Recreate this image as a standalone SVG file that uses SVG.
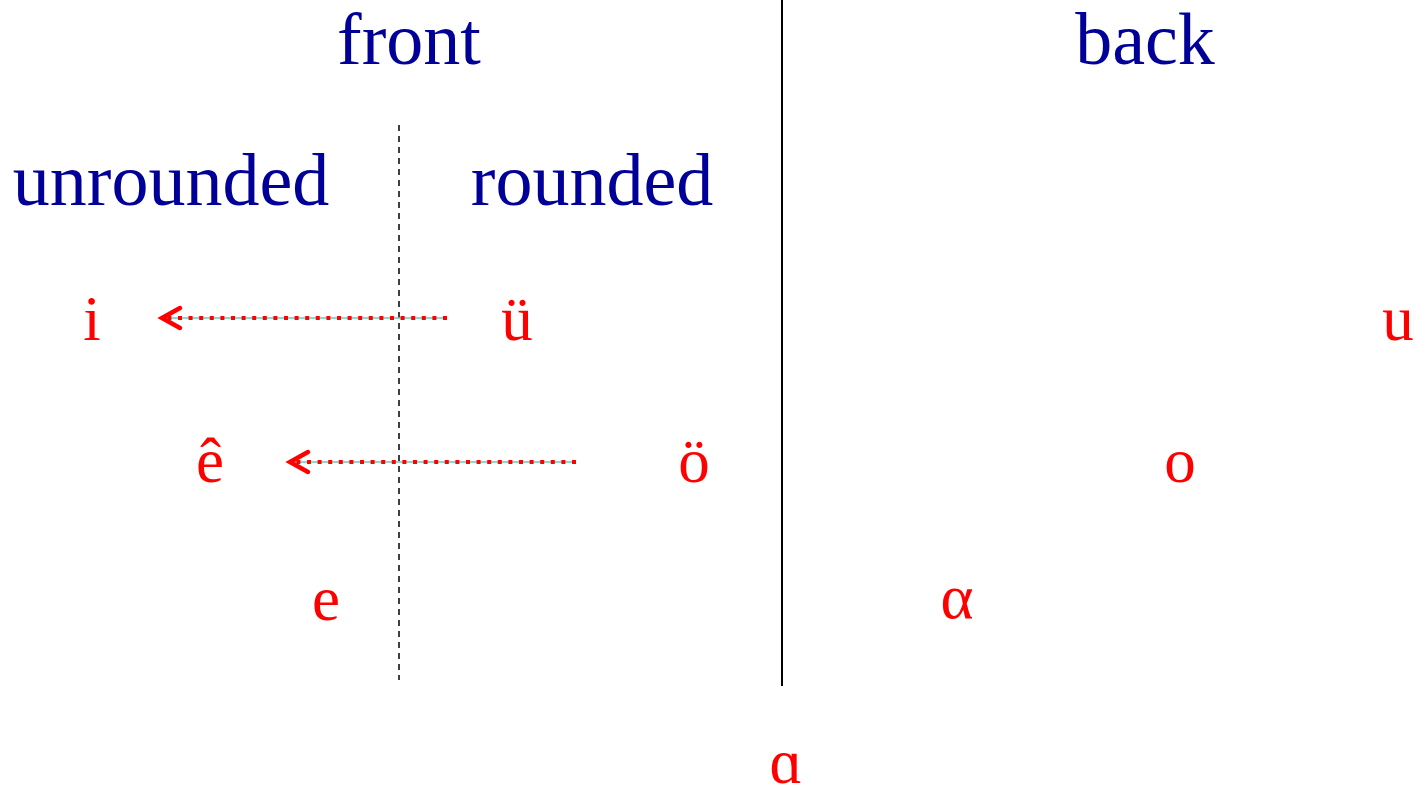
<svg xmlns="http://www.w3.org/2000/svg" width="1415" height="787" viewBox="0 0 1415 787">
<style>
.hdr{font-family:"Liberation Serif","Times New Roman",serif;font-size:74px;fill:#000099}
.v{font-family:"Liberation Serif","Times New Roman",serif;font-size:63px;fill:#ff0000}
.under{stroke:#66ccbb;stroke-width:1.5;fill:none}
.dots{stroke:#ff0000;stroke-width:4;stroke-dasharray:4 6.6;fill:none}
.head{stroke:#ff0000;stroke-width:4.5;fill:none;stroke-linecap:round;stroke-linejoin:miter}
</style>
<rect width="1415" height="787" fill="#ffffff"/>
<g id="dividers">
<line x1="782" y1="0" x2="782" y2="686" stroke="#000" stroke-width="2"/>
<line x1="399" y1="125" x2="399" y2="680" stroke="#000" stroke-width="1.5" stroke-dasharray="6 5"/>
</g>
<g id="headers">
<text id="front" class="hdr" x="409" y="64" text-anchor="middle">front</text>
<text id="back" class="hdr" x="1145" y="64" text-anchor="middle">back</text>
<text id="unrounded" class="hdr" x="171" y="205" text-anchor="middle">unrounded</text>
<text id="rounded" class="hdr" x="592" y="205" text-anchor="middle">rounded</text>
</g>
<g id="vowels">
<text id="v-i" class="v" x="92" y="340" text-anchor="middle">i</text>
<text id="v-uu" class="v" x="517" y="340" text-anchor="middle">ü</text>
<text id="v-u" class="v" x="1398" y="340" text-anchor="middle">u</text>
<text id="v-ecirc" class="v" x="210" y="482" text-anchor="middle">ê</text>
<text id="v-oo" class="v" x="694" y="482" text-anchor="middle">ö</text>
<text id="v-o" class="v" x="1180" y="482" text-anchor="middle">o</text>
<text id="v-e" class="v" x="326" y="620" text-anchor="middle">e</text>
<text id="v-alpha" class="v" x="957" y="618" text-anchor="middle">α</text>
<text id="v-a" class="v" x="786" y="783" text-anchor="middle">ɑ</text>
</g>
<g id="connectors">
<line class="under" x1="447" y1="318" x2="163" y2="318"/>
<line class="dots" x1="447" y1="318" x2="165" y2="318"/>
<polyline class="head" points="180,308 162,318 180,328"/>
<line class="under" x1="576" y1="462" x2="291" y2="462"/>
<line class="dots" x1="576" y1="462" x2="293" y2="462"/>
<polyline class="head" points="308,452 290,462 308,472"/>
</g>
</svg>
